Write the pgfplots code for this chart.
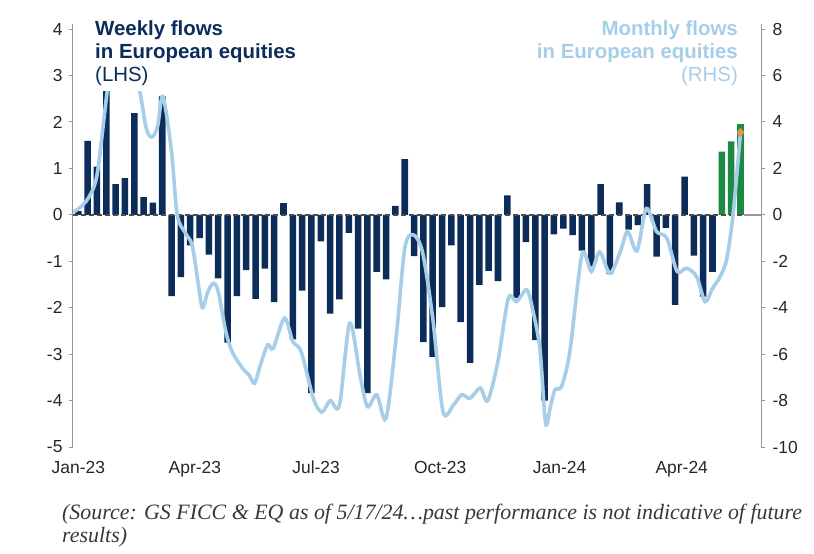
\documentclass[border=0pt]{standalone}
\usepackage{pgfplots}
\pgfplotsset{compat=1.18}
\usepackage{fontspec}
\setmainfont{Liberation Sans}
\newfontfamily\capfont{Liberation Serif}
\definecolor{navy}{RGB}{12,45,90}
\definecolor{lblue}{RGB}{166,206,232}
\definecolor{fgreen}{RGB}{28,138,68}
\definecolor{mkorange}{RGB}{230,150,70}
\definecolor{axgray}{RGB}{150,150,150}

\pgfplotstableread{
x y
0 0.08
1 1.59
2 1.04
3 2.9
4 0.66
5 0.79
6 2.19
7 0.38
8 0.26
9 2.55
10 -1.75
11 -1.34
12 -0.66
13 -0.50
14 -0.86
15 -1.37
16 -2.75
17 -1.75
18 -1.19
19 -1.81
20 -1.16
21 -1.88
22 0.25
23 -2.68
24 -1.63
25 -3.84
26 -0.57
27 -2.13
28 -1.82
29 -0.39
30 -2.45
31 -3.84
32 -1.23
33 -1.39
34 0.19
35 1.20
36 -0.89
37 -2.74
38 -3.06
39 -1.99
40 -0.66
41 -2.31
42 -3.19
43 -1.51
44 -1.21
45 -1.43
46 0.42
47 -1.79
48 -0.59
49 -2.70
50 -4.00
51 -0.42
52 -0.30
53 -0.44
54 -0.77
55 -1.11
56 0.66
57 -1.28
58 0.27
59 -0.32
60 -0.22
61 0.66
62 -0.90
63 -0.28
64 -1.94
65 0.82
66 -0.88
67 -1.76
68 -1.23
}\weekly

\pgfplotstableread{
x y
69 1.36
70 1.58
71 1.95
}\weeklynew

\pgfplotstableread{
x y
-0.57 0.13
0 0.25
1.04 0.7
2.0 1.7
2.97 4.9
3.6 6.8
4.5 7.5
5.5 7.2
6.6 5.3
7.3 3.7
7.9 3.35
8.5 3.8
9.07 5.1
10.0 2.7
10.6 0
11.5 -0.8
12.2 -1.3
12.8 -2.8
13.3 -4.0
13.9 -3.3
14.5 -2.95
15.0 -3.3
15.8 -5.0
16.5 -5.9
17.6 -6.6
18.3 -6.9
18.9 -7.25
19.5 -6.5
20.3 -5.6
20.9 -5.75
22.1 -4.45
23.0 -5.46
23.9 -5.9
25.2 -7.9
26.1 -8.5
27.0 -8.0
28.0 -8.2
29.1 -4.67
30.2 -6.9
31.0 -8.26
32.0 -7.75
33.0 -8.76
34.1 -5.2
35.0 -1.45
35.9 -0.86
36.9 -1.6
38.0 -4.45
39.1 -8.46
40.2 -8.2
41.1 -7.75
42.0 -7.9
43.1 -7.46
43.9 -8.0
45.0 -6.3
46.1 -3.6
47.0 -3.74
48.1 -3.23
48.8 -4.24
49.5 -5.8
50.1 -8.97
50.6 -8.3
51.1 -7.53
51.8 -7.4
52.7 -5.9
54.0 -1.72
55.0 -2.44
55.9 -1.6
57.0 -2.52
58.1 -1.6
58.9 -0.72
59.9 -1.55
60.9 0.27
62.0 -0.72
63.1 -1.0
64.2 -2.44
65.2 -2.3
66.3 -2.66
67.2 -3.74
68.0 -3.17
68.8 -2.67
69.5 -1.94
70.2 0
71.0 3.55
}\monthly

\begin{document}
\begin{tikzpicture}
\path[use as bounding box] (-73bp,-107bp) rectangle (741bp,447bp);
\begin{axis}[
  at={(0,0)}, anchor=south west, scale only axis,
  width=688bp, height=422.6bp,
  xmin=-0.57, xmax=73.2, ymin=-5, ymax=4.1,
  axis y line*=left, axis x line*=bottom,
  x axis line style={draw=none},
  y axis line style={draw=axgray, line width=1bp},
  xtick={0,12.5,25.5,38.8,51.6,64.7},
  xticklabels={Jan-23,Apr-23,Jul-23,Oct-23,Jan-24,Apr-24},
  ytick={-5,-4,...,4},
  tick align=outside,
  major tick length=4bp,
  xtick style={draw=none},
  ytick style={draw=axgray, line width=1bp},
  /pgf/number format/assume math mode=true,
  ticklabel style={font=\fontsize{17.5}{20}\selectfont, text=black!85},
  xticklabel style={anchor=base, yshift=-22bp},
  yticklabel style={xshift=-3bp},
]
\addplot[ybar, bar width=0.7, bar shift=0pt, fill=navy, draw=none] table {\weekly};
\addplot[ybar, bar width=0.7, bar shift=0pt, fill=fgreen, draw=none] table {\weeklynew};
\addplot[draw=black!70, line width=1.6bp, dash pattern=on 5bp off 3bp] coordinates {(-0.57,0) (71.4,0)};
\addplot[draw=axgray, line width=1.4bp] coordinates {(71.4,0) (73.2,0)};
\end{axis}
\begin{axis}[
  at={(0,0)}, anchor=south west, scale only axis,
  width=688bp, height=422.6bp,
  xmin=-0.57, xmax=73.2, ymin=-10, ymax=8.2,
  axis y line*=right, axis x line=none,
  y axis line style={draw=axgray, line width=1bp},
  ytick={-10,-8,...,8},
  tick align=outside,
  major tick length=4bp,
  ytick style={draw=axgray, line width=1bp},
  /pgf/number format/assume math mode=true,
  ticklabel style={font=\fontsize{17.5}{20}\selectfont, text=black!85},
  yticklabel style={xshift=4bp},
]
\addplot[lblue, line width=3.6bp, smooth] table {\monthly};
\addplot[only marks, mark=diamond*, mark size=4.5bp, mark options={fill=mkorange, draw=mkorange}] coordinates {(71,3.55)};
\end{axis}
\fill[white] (20bp,356bp) rectangle (232bp,437bp);
\node[anchor=base west, inner sep=0, text=navy, font=\bfseries\fontsize{20.5}{23}\selectfont] at (22bp,411bp) {Weekly flows};
\node[anchor=base west, inner sep=0, text=navy, font=\bfseries\fontsize{20.5}{23}\selectfont] at (22bp,388bp) {in European equities};
\node[anchor=base west, inner sep=0, text=navy, font=\fontsize{20.5}{23}\selectfont] at (22bp,365bp) {(LHS)};
\node[anchor=base east, inner sep=0, text=lblue, font=\bfseries\fontsize{20.5}{23}\selectfont] at (665bp,411bp) {Monthly flows};
\node[anchor=base east, inner sep=0, text=lblue, font=\bfseries\fontsize{20.5}{23}\selectfont] at (665bp,388bp) {in European equities};
\node[anchor=base east, inner sep=0, text=lblue, font=\fontsize{20.5}{23}\selectfont] at (665bp,365bp) {(RHS)};
\node[anchor=base west, inner sep=0, text=black!78, font=\capfont\itshape\fontsize{22}{24}\selectfont] at (-11bp,-72bp) {(Source: GS FICC \& EQ as of 5/17/24…past performance is not indicative of future};
\node[anchor=base west, inner sep=0, text=black!78, font=\capfont\itshape\fontsize{22}{24}\selectfont] at (-11bp,-95bp) {results)};
\end{tikzpicture}
\end{document}
